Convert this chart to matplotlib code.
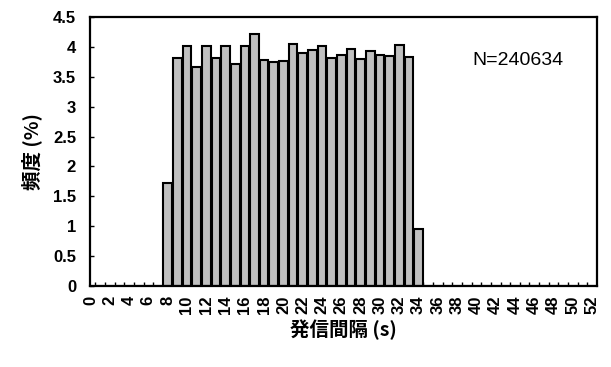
import matplotlib
matplotlib.use("Agg")
import matplotlib.pyplot as plt
import numpy as np

plt.rcParams['font.family'] = ['Liberation Sans', 'Noto Sans CJK JP', 'DejaVu Sans']

intervals = list(range(0, 53))
freq_values = {
    8: 1.72, 9: 3.82, 10: 4.02, 11: 3.66, 12: 4.02, 13: 3.81, 14: 4.02,
    15: 3.72, 16: 4.02, 17: 4.21, 18: 3.78, 19: 3.75, 20: 3.77, 21: 4.05,
    22: 3.90, 23: 3.95, 24: 4.01, 25: 3.82, 26: 3.87, 27: 3.97, 28: 3.80,
    29: 3.93, 30: 3.87, 31: 3.85, 32: 4.03, 33: 3.83, 34: 0.95,
}
freq = [freq_values.get(i, 0.0) for i in intervals]
xtick_labels = [str(i) for i in range(0, 53, 2)]
yticks = [0, 0.5, 1, 1.5, 2, 2.5, 3, 3.5, 4, 4.5]
ytick_labels = ['0', '0.5', '1', '1.5', '2', '2.5', '3', '3.5', '4', '4.5']

fig = plt.figure(figsize=(6.11, 3.67), dpi=100)
ax = fig.add_axes([90/611, 1-286/367, 507/611, 269/367])

ax.bar(intervals, freq, width=0.9, color='#c0c0c0', edgecolor='black',
       linewidth=1.5, zorder=2)

ax.set_xlim(-0.05, 52.5)
ax.set_ylim(0, 4.5)
ax.set_xticks(list(range(0, 53, 2)))
ax.set_xticklabels(xtick_labels, rotation=90, fontsize=12, fontweight='bold')
ax.tick_params(axis='x', which='major', length=0, pad=7)
ax.set_xticks([i + 0.5 for i in range(0, 52)], minor=True)
ax.tick_params(axis='x', which='minor', direction='in', length=3, width=1)
ax.set_yticks(yticks)
ax.set_yticklabels(ytick_labels, fontsize=12, fontweight='bold')
ax.tick_params(axis='y', direction='in', length=3, width=1, pad=10)

for s in ax.spines.values():
    s.set_linewidth(1.6)

ax.set_xlabel('発信間隔 (s)', fontsize=14, fontweight='bold',
              family=['Noto Sans CJK JP', 'DejaVu Sans'], labelpad=4)
ax.set_ylabel('頻度 (%)', fontsize=14, fontweight='bold',
              family=['Noto Sans CJK JP', 'DejaVu Sans'], labelpad=8)

ax.text(0.845, 0.84, 'N=240634', transform=ax.transAxes, fontsize=14,
        ha='center', va='center')

fig.savefig('out.png', dpi=100)
